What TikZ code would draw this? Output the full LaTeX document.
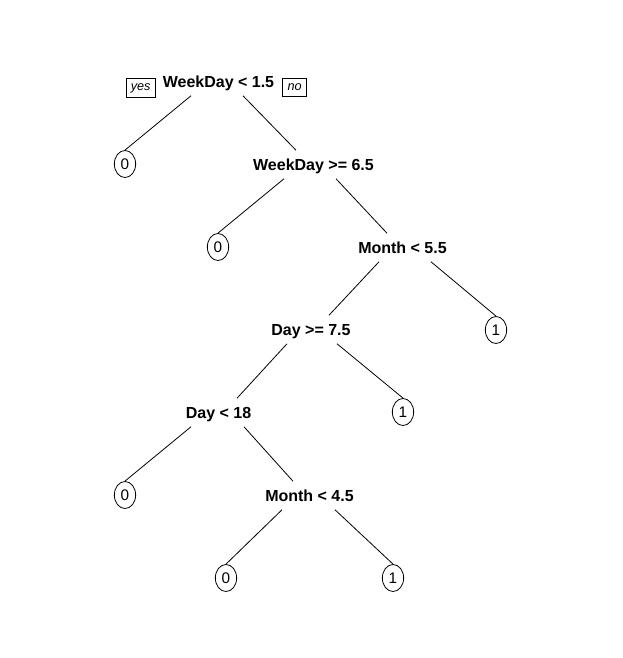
\documentclass[tikz,border=0pt]{standalone}
\usepackage{fontspec}
\setmainfont{Liberation Sans}
\usetikzlibrary{calc,shapes.geometric}

\tikzset{
  split/.style={font=\fontsize{12}{14}\selectfont\bfseries, inner xsep=0pt, inner ysep=6.2pt, text height=8.6pt, text depth=0pt},
  leaf/.style={draw, ellipse, line width=0.6pt, inner sep=0pt, minimum width=16pt, minimum height=20.25pt, font=\fontsize{11.5}{13}\selectfont},
  yesno/.style={draw, line width=0.6pt, inner xsep=3.5pt, inner ysep=0pt, minimum height=14pt, font=\fontsize{9.5}{11}\selectfont\itshape},
  branch/.style={line width=0.6pt}
}

\begin{document}
\begin{tikzpicture}[x=0.75pt,y=0.75pt,yscale=-1,xscale=1]
	\useasboundingbox (0,0) rectangle (623,658);
	
	% Split Nodes
	\node [split] (root) at (218.5,81.5) {WeekDay < 1.5};
	\node [split] (wd) at (313.5,164.5) {WeekDay >= 6.5};
	\node [split] (mo) at (402.5,247.5) {Month < 5.5};
	\node [split] (dg) at (311,329.5) {Day >= 7.5};
	\node [split] (dl) at (218.5,412.5) {Day < 18};
	\node [split] (mo2) at (309.5,495.5) {Month < 4.5};
	
	% Leaf Nodes
	\node [leaf] (l1) at (125,164) {0};
	\node [leaf] (l2) at (218,247) {0};
	\node [leaf] (l3) at (496,330) {1};
	\node [leaf] (l4) at (403,412) {1};
	\node [leaf] (l5) at (125,495) {0};
	\node [leaf] (l6) at (226,578) {0};
	\node [leaf] (l7) at (393,578) {1};
	
	% Text Node
	\node [yesno, anchor=east] (yes) at ($(root.west)+(-7,6.5)$) {yes};
	% Text Node
	\node [yesno, anchor=west] (no) at ($(root.east)+(8,6)$) {no};
	
	%Straight Lines
	\draw [branch] ($(root.south)+(-27.5,0)$) -- (l1.north);
	\draw [branch] ($(root.south)+(24.5,0)$) -- ($(wd.north)+(-17.5,0)$);
	\draw [branch] ($(wd.south)+(-29.5,0)$) -- (l2.north);
	\draw [branch] ($(wd.south)+(22.5,0)$) -- ($(mo.north)+(-15.5,0)$);
	\draw [branch] ($(mo.south)+(-23.5,0)$) -- ($(dg.north)+(18,0)$);
	\draw [branch] ($(mo.south)+(28.5,0)$) -- (l3.north);
	\draw [branch] ($(dg.south)+(-24,0)$) -- ($(dl.north)+(18.5,0)$);
	\draw [branch] ($(dg.south)+(26,0)$) -- (l4.north);
	\draw [branch] ($(dl.south)+(-27.5,0)$) -- (l5.north);
	\draw [branch] ($(dl.south)+(25.5,0)$) -- ($(mo2.north)+(-16.5,0)$);
	\draw [branch] ($(mo2.south)+(-27.5,0)$) -- (l6.north);
	\draw [branch] ($(mo2.south)+(25.5,0)$) -- (l7.north);
	
\end{tikzpicture}
\end{document}
